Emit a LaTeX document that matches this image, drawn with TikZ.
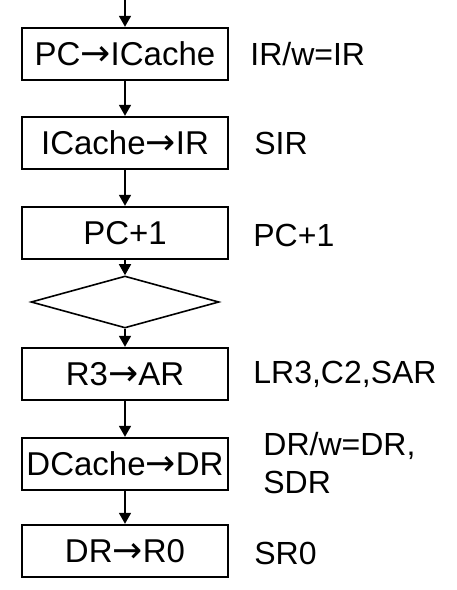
\documentclass[tikz,border=0pt]{standalone}
\usepackage{fontspec}
\setmainfont{Liberation Sans}
\newfontfamily\arrowfont{DejaVu Sans}
\newcommand\toarrow{{\arrowfont\fontsize{36}{36}\selectfont →}}
\usetikzlibrary{arrows.meta,shapes.geometric,positioning}

\begin{document}
\begin{tikzpicture}[x=1pt, y=1pt, >={Triangle[length=11pt,width=12pt]}, node distance=89pt]
		\tikzstyle{stepbox} = [draw, line width=2.4pt, minimum width=206pt, minimum height=52pt, inner sep=0pt, font=\fontsize{33}{36}\selectfont]
		\tikzstyle{decide} = [draw, line width=1.6pt, diamond, minimum width=188pt, minimum height=52pt, inner sep=0pt]
		\tikzstyle{signal} = [anchor=west, align=left, inner sep=0pt, font=\fontsize{32}{38}\selectfont]
		\tikzstyle{flow} = [->, line width=1.6pt]

		\useasboundingbox (0,0) rectangle (456,-590);

		% main sequence
		\coordinate (start) at (125,0);
		\node[stepbox] (pc) at (125,-54) {PC\toarrow ICache};
		\node[stepbox, below of=pc] (ir) {ICache\toarrow IR};
		\node[stepbox, below of=ir, yshift=-1pt] (inc) {PC+1};
		\node[decide, below of=inc, yshift=20pt] (test) {};
		\node[stepbox, below of=test, yshift=17pt] (ar) {R3\toarrow AR};
		\node[stepbox, below of=ar, yshift=-1pt] (dr) {DCache\toarrow DR};
		\node[stepbox, below of=dr, yshift=2pt] (r0) {DR\toarrow R0};

		% control signals
		\node[signal, right=21pt of pc] (spc) {IR/w=IR};
		\node[signal, right=25pt of ir] (sir) {SIR};
		\node[signal, right=24pt of inc, yshift=-2pt] (sinc) {PC+1};
		\node[signal, right=24pt of ar] (sar) {LR3,C2,SAR};
		\node[signal, right=34pt of dr, yshift=1pt] (sdr) {DR/w=DR,\\SDR};
		\node[signal, right=25pt of r0, yshift=-2pt] (sr0) {SR0};

		\draw[flow] (start) -- (pc);
		\draw[flow] (pc) -- (ir);
		\draw[flow] (ir) -- (inc);
		\draw[flow] (inc) -- (test);
		\draw[flow] (test) -- (ar);
		\draw[flow] (ar) -- (dr);
		\draw[flow] (dr) -- (r0);
\end{tikzpicture}
\end{document}
